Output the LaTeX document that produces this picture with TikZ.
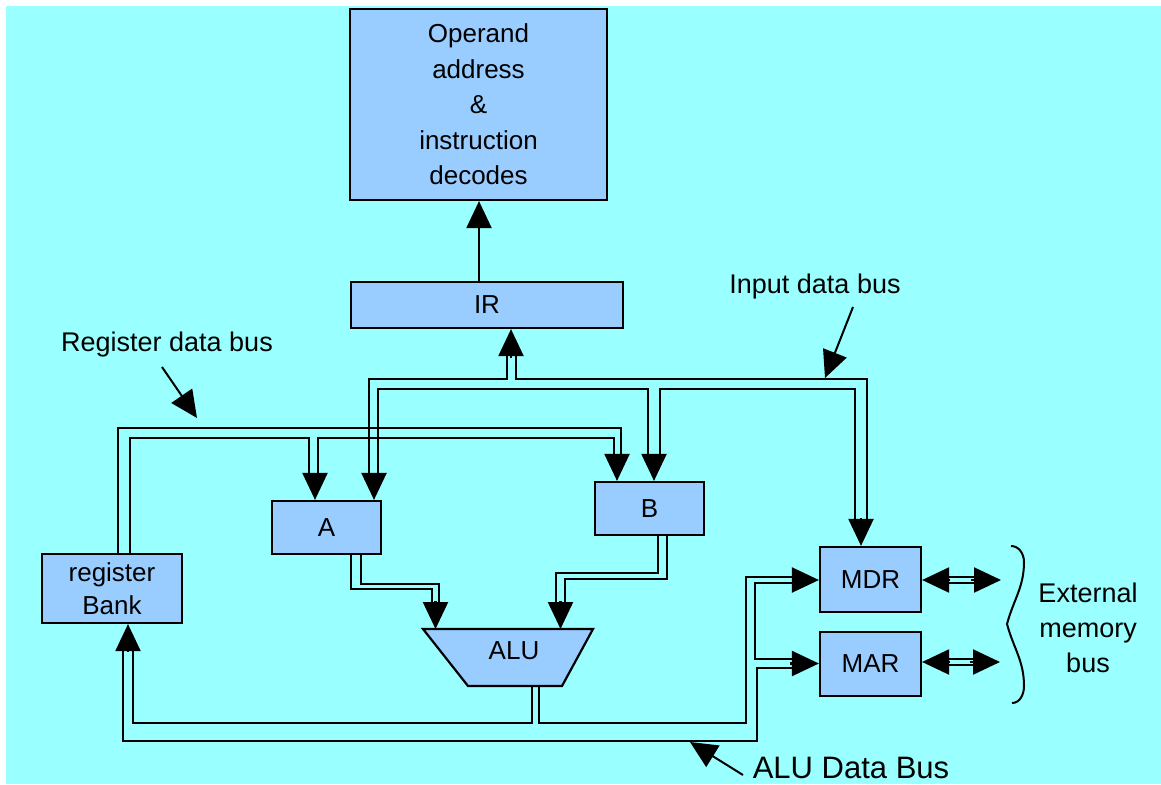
\documentclass[tikz,border=0pt]{standalone}
\usepackage{fontspec}
\setmainfont{Liberation Sans}
\usetikzlibrary{arrows.meta}
\definecolor{bgcyan}{HTML}{99FFFF}
\definecolor{boxblue}{HTML}{99CCFF}
\tikzset{
  unit/.style={draw=black, line width=2.2pt, fill=boxblue, inner sep=0pt, align=center, font=\fontsize{26}{35.5}\selectfont},
  bus/.style={line width=2.2pt},
  arr/.style={line width=2.2pt, -{Triangle[width=25pt,length=27pt]}},
  lbl/.style={font=\fontsize{27}{35}\selectfont, align=center},
}
\begin{document}
\begin{tikzpicture}[x=1pt,y=-1pt]

% Fond
\fill[white] (0,0) rectangle (1161,784);
\fill[bgcyan] (6,6) rectangle (1161,784);
\useasboundingbox (0,0) rectangle (1161,784);

% Blocs
\node[unit, minimum width=257pt, minimum height=191pt] (decode) at (478.5,104.5) {Operand\\address\\\&\\instruction\\decodes};
\node[unit, minimum width=272pt, minimum height=46pt] (IR) at (487,305) {IR};
\node[unit, minimum width=109pt, minimum height=53pt] (A) at (326.5,527.5) {A};
\node[unit, minimum width=109pt, minimum height=53pt] (B) at (649.5,508.5) {B};
\node[unit, minimum width=140pt, minimum height=69pt, font=\fontsize{26}{33}\selectfont] (bank) at (112,588.5) {register\\Bank};
\node[unit, minimum width=101pt, minimum height=65pt] (MDR) at (870.5,579.5) {MDR};
\node[unit, minimum width=101pt, minimum height=64pt] (MAR) at (870.5,664) {MAR};

% ALU
\draw[line width=2.2pt, fill=boxblue] (423,629) -- (593,629) -- (562,686) -- (468,686) -- cycle;
\coordinate (alutop) at (508,629);
\node[font=\fontsize{26}{30}\selectfont] (ALU) at (514,651) {ALU};

% Input data bus
\draw[bus] (507,355) -- (507,379) -- (369,379) -- (369,478);
\draw[bus] (516,355) -- (516,379) -- (867,379) -- (867,522);
\draw[bus] (378,478) -- (378,389) -- (648,389) -- (648,458);
\draw[bus] (660,458) -- (660,389) -- (855,389) -- (855,522);

% Register data bus
\draw[bus] (118,554) -- (118,428) -- (621,428) -- (621,458);
\draw[bus] (130,554) -- (130,438) -- (309,438) -- (309,478);
\draw[bus] (318,478) -- (318,438) -- (614,438) -- (614,458);

% A et B vers ALU
\draw[bus] (351,554) -- (351,589) -- (432,589) -- (432,606);
\draw[bus] (361,554) -- (361,584) -- (439,584) -- (439,606);
\draw[bus] (667,535) -- (667,579) -- (565,579) -- (565,606);
\draw[bus] (658,535) -- (658,573) -- (556,573) -- (556,606);

% ALU data bus
\draw[bus] (532,686) -- (532,723) -- (133,723) -- (133,650);
\draw[bus] (539,686) -- (539,723) -- (746,723) -- (746,577) -- (796,577);
\draw[bus] (123,650) -- (123,741) -- (757,741) -- (757,668) -- (794,668);
\draw[bus] (794,583) -- (755,583) -- (755,659) -- (794,659);

% Fleches
\draw[arr] (479,0 |- IR.north) -- (479,0 |- decode.south);
\draw[arr] (511,358) -- (511,358 |- IR.south);
\draw[arr] (315,473) -- (315,473 |- A.north);
\draw[arr] (374,473) -- (374,473 |- A.north);
\draw[arr] (617,454) -- (617,454 |- B.north);
\draw[arr] (654,454) -- (654,454 |- B.north);
\draw[arr] (861,518) -- (861,518 |- MDR.north);
\draw[arr] (435.5,601) -- (435.5,601 |- alutop);
\draw[arr] (560.5,601) -- (560.5,601 |- alutop);
\draw[arr] (128,651) -- (128,651 |- bank.south);
\draw[arr] (792,580) -- (792,580 -| MDR.west);
\draw[arr] (790,663.5) -- (790,663.5 -| MAR.west);

% Bus memoire externe
\coordinate (mdrext) at (1001,580);
\coordinate (marext) at (1000,662);
\draw[bus] (946,577) -- (975,577);
\draw[bus] (946,583) -- (975,583);
\draw[arr] (950,580) -- (950,580 -| MDR.east);
\draw[arr] (971,580) -- (mdrext);
\draw[bus] (946,659) -- (975,659);
\draw[bus] (946,665) -- (975,665);
\draw[arr] (950,662) -- (950,662 -| MAR.east);
\draw[arr] (970,662) -- (marext);

% Accolade
\draw[line width=2pt] (1011,546) to[out=0,in=90] (1024,562) to[out=-90,in=75] (1007,624)
  to[out=-75,in=90] (1024,686) to[out=-90,in=0] (1012,703);

% Labels
\node[lbl] (regbus) at (167,345) {Register data bus};
\node[lbl] (inbus) at (815,287) {Input data bus};
\node[lbl] (ext) at (1088,628) {External\\memory\\bus};
\node[lbl, font=\fontsize{31}{35}\selectfont] (alubus) at (851,768) {ALU Data Bus};

\coordinate (regtap) at (197,418);
\coordinate (intap) at (825,378);
\coordinate (alutap) at (690,742);
\draw[arr, line width=2pt] (162,367) -- (regtap);
\draw[arr, line width=2pt] (853,307) -- (intap);
\draw[arr, line width=2pt] (743,775) -- (alutap);

\end{tikzpicture}
\end{document}
